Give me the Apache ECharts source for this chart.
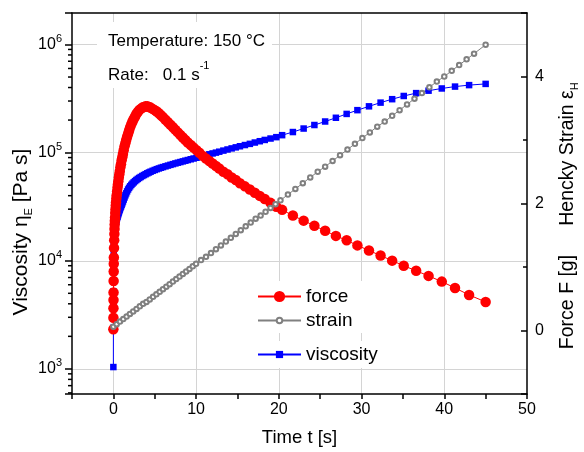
<!DOCTYPE html>
<html>
<head>
<meta charset="utf-8">
<script src="https://cdn.jsdelivr.net/npm/echarts@6/dist/echarts.min.js"></script>
<style>
html, body { margin: 0; padding: 0; background: #fff; }
#chart { width: 584px; height: 452px; }
</style>
</head>
<body>
<div id="chart"></div>
<script>
// Elongational test: time base shared by force and viscosity (s)
const time = [
  0, 0.005, 0.01, 0.015, 0.02, 0.03, 0.04, 0.05, 0.06, 0.08,
  0.1, 0.12, 0.14, 0.16, 0.18, 0.2, 0.23, 0.26, 0.29, 0.32,
  0.36, 0.4, 0.45, 0.5, 0.55, 0.6, 0.66, 0.72, 0.78, 0.85,
  0.92, 1.0, 1.08, 1.16, 1.25, 1.35, 1.45, 1.55, 1.66, 1.78,
  1.9, 2.03, 2.17, 2.31, 2.46, 2.62, 2.78, 2.95, 3.12, 3.3,
  3.5, 3.7, 3.9, 4.1, 4.3, 4.5, 4.75, 5.0, 5.25, 5.5,
  5.75, 6.0, 6.3, 6.6, 6.9, 7.2, 7.5, 7.8, 8.1, 8.4,
  8.7, 9.0, 9.35, 9.7, 10.05, 10.4, 10.8, 11.2, 11.6, 12.0,
  12.4, 12.8, 13.3, 13.8, 14.3, 14.8, 15.3, 15.9, 16.5, 17.1,
  17.7, 18.3, 19.0, 19.7, 20.4, 21.7, 23.0, 24.3, 25.6, 26.9,
  28.2, 29.5, 30.9, 32.3, 33.7, 35.1, 36.6, 38.1, 39.7, 41.3,
  43.0, 45.0];

// Tensile force F (g)
const force = [
  0.02, 0.2, 0.35, 0.48, 0.6, 0.78, 0.93, 1.05, 1.15, 1.3,
  1.42, 1.52, 1.6, 1.67, 1.73, 1.78, 1.85, 1.91, 1.97, 2.02,
  2.08, 2.13, 2.19, 2.25, 2.3, 2.35, 2.41, 2.46, 2.51, 2.57,
  2.62, 2.68, 2.73, 2.78, 2.84, 2.9, 2.95, 3.0, 3.05, 3.1,
  3.15, 3.2, 3.25, 3.29, 3.33, 3.37, 3.41, 3.44, 3.47, 3.49,
  3.51, 3.52, 3.53, 3.53, 3.52, 3.51, 3.49, 3.47, 3.45, 3.42,
  3.39, 3.36, 3.32, 3.28, 3.24, 3.2, 3.16, 3.12, 3.08, 3.04,
  3.0, 2.96, 2.92, 2.88, 2.84, 2.8, 2.75, 2.71, 2.67, 2.63,
  2.59, 2.55, 2.5, 2.46, 2.41, 2.37, 2.32, 2.27, 2.22, 2.17,
  2.12, 2.07, 2.01, 1.95, 1.9, 1.81, 1.73, 1.65, 1.57, 1.49,
  1.42, 1.34, 1.26, 1.18, 1.10, 1.02, 0.94, 0.86, 0.77, 0.67,
  0.56, 0.45];

// Elongational viscosity ηE (Pa s)
const viscosity = [
  1040, 2400, 3800, 5200, 6500, 8800, 10800, 12300, 13500, 15200,
  16500, 17500, 18300, 19000, 19600, 20100, 20900, 21600, 22200, 22800,
  23500, 24100, 24800, 25500, 26300, 27000, 27900, 28800, 29700, 30700,
  31700, 32800, 34000, 35300, 36800, 38500, 40300, 42000, 43800, 45600,
  47200, 48800, 50300, 51700, 53100, 54500, 55800, 57100, 58300, 59500,
  60800, 62000, 63200, 64400, 65500, 66600, 67900, 69100, 70300, 71400,
  72500, 73500, 74700, 75900, 77100, 78300, 79500, 80700, 81800, 83000,
  84200, 85400, 86800, 88200, 89600, 91100, 92900, 94700, 96500, 98300,
  100000, 102000, 104400, 106900, 109400, 111900, 114500, 117500, 120500, 124000,
  127500, 131000, 135000, 139000, 145000, 155000, 167000, 180000, 194000, 210000,
  228000, 247000, 268000, 290000, 312000, 334000, 355000, 374000, 392000, 408000,
  421000, 432000];

// Hencky strain εH, sampled on its own time base (s)
const strainTime = [0, 0.4, 0.8, 1.2, 1.6, 2.0, 2.4, 2.8, 3.2, 3.6, 4.0, 4.4, 4.8, 5.2, 5.6, 6.0, 6.4, 6.8,
  7.2, 7.6, 8.0, 8.4, 8.8, 9.2, 9.6, 10.0, 10.6, 11.2, 11.8, 12.4, 13.0, 13.6, 14.2, 14.8, 15.4, 16.0,
  16.6, 17.2, 17.8, 18.4, 19.0, 19.6, 20.2, 21.1, 22.0, 22.9, 23.8, 24.7, 25.6, 26.5, 27.4, 28.3, 29.2,
  30.1, 31.0, 31.9, 32.8, 33.7, 34.6, 35.5, 36.4, 37.3, 38.2, 39.1, 40.0, 40.9, 41.8, 42.7, 43.6, 45.0];
const strain = [0.06, 0.10, 0.14, 0.18, 0.22, 0.26, 0.30, 0.34, 0.38, 0.42, 0.45, 0.49, 0.53, 0.57, 0.61, 0.65, 0.69, 0.73,
  0.77, 0.81, 0.85, 0.89, 0.93, 0.97, 1.01, 1.05, 1.11, 1.16, 1.22, 1.28, 1.34, 1.40, 1.46, 1.52, 1.58, 1.64,
  1.70, 1.76, 1.81, 1.87, 1.93, 1.99, 2.05, 2.14, 2.23, 2.32, 2.41, 2.50, 2.58, 2.67, 2.76, 2.85, 2.94,
  3.03, 3.12, 3.21, 3.29, 3.38, 3.47, 3.56, 3.65, 3.74, 3.83, 3.92, 4.00, 4.09, 4.18, 4.27, 4.36, 4.50];

// Labelled ticks
const timeLabels = [0, 10, 20, 30, 40, 50];
const rightLabels = [0, 2, 4];
const rightMinorTicks = [1, 3];

// Axis ranges
const timeRange = [-5, 50];
const viscRange = [586, 1955000];
const rightRange = [-1, 5];

const FONT = '"Liberation Sans", Arial, Helvetica, sans-serif';

// 2..9 × 10^n minor ticks of the logarithmic axis
const logMinorTicks = [];
for (let e = 2; e <= 6; e++) {
  for (let m = 2; m <= 9; m++) {
    const v = m * Math.pow(10, e);
    if (v > viscRange[0] && v < viscRange[1]) logMinorTicks.push(v);
  }
}

const chart = echarts.init(document.getElementById('chart'), null, { renderer: 'canvas' });

const tickFont = { fontFamily: FONT, fontSize: 16, color: '#000' };
const legendText = { fontFamily: FONT, fontSize: 19, color: '#000' };

function tickMarks(dir, len) {
  return function (params, api) {
    const p = api.coord([api.value(0), api.value(1)]);
    return {
      type: 'line',
      shape: { x1: p[0], y1: p[1], x2: p[0] + dir * len, y2: p[1] },
      style: { stroke: '#000', lineWidth: 1.5 }
    };
  };
}

function legendBox(name, top, itemHeight, padding) {
  return {
    data: [name], left: 250, top: top, orient: 'vertical',
    padding: padding, itemWidth: 43, itemHeight: itemHeight, itemGap: 0,
    backgroundColor: '#fff', textStyle: legendText, selectedMode: false
  };
}

const option = {
  animation: false,
  backgroundColor: '#fff',
  grid: { left: 72, right: 57, top: 13, bottom: 55, containLabel: false },
  xAxis: [
    {
      type: 'value', min: timeRange[0], max: timeRange[1], interval: 5,
      name: 'Time t [s]', nameLocation: 'middle', nameGap: 34,
      nameTextStyle: { fontFamily: FONT, fontSize: 18.5, color: '#000' },
      axisLine: { show: true, onZero: false, lineStyle: { color: '#000', width: 1.5 } },
      axisTick: { show: true, inside: false, length: 5, lineStyle: { color: '#000', width: 1.5 } },
      axisLabel: Object.assign({ margin: 8, formatter: v => (timeLabels.indexOf(v) >= 0 ? String(v) : '') }, tickFont),
      splitLine: { show: true, showMinLine: false, showMaxLine: false,
        lineStyle: { color: ['#d4d4d4', 'rgba(0,0,0,0)'], width: 1 } }
    },
    {
      type: 'value', position: 'top', min: timeRange[0], max: timeRange[1],
      axisLine: { show: true, onZero: false, lineStyle: { color: '#000', width: 1.5 } },
      axisTick: { show: false }, axisLabel: { show: false }, splitLine: { show: false }
    }
  ],
  yAxis: [
    {
      type: 'log', logBase: 10, min: viscRange[0], max: viscRange[1], position: 'left',
      axisLine: { show: true, onZero: false, lineStyle: { color: '#000', width: 1.5 } },
      axisTick: { show: true, inside: false, length: 7, lineStyle: { color: '#000', width: 1.5 } },
      axisLabel: {
        margin: 10,
        formatter: function (v) {
          const e = Math.log10(v);
          if (Math.abs(e - Math.round(e)) > 1e-6) return '';
          return '{b|10}{s|' + Math.round(e) + '}';
        },
        rich: {
          b: { fontFamily: FONT, fontSize: 16, color: '#000', lineHeight: 22 },
          s: { fontFamily: FONT, fontSize: 11, color: '#000', lineHeight: 11, verticalAlign: 'top' }
        }
      },
      splitLine: { show: true, showMinLine: false, showMaxLine: false, lineStyle: { color: '#d4d4d4', width: 1 } }
    },
    {
      type: 'value', min: rightRange[0], max: rightRange[1], splitNumber: 3, position: 'right',
      axisLine: { show: true, onZero: false, lineStyle: { color: '#000', width: 1.5 } },
      axisTick: { show: true, inside: true, length: 6, lineStyle: { color: '#000', width: 1.5 } },
      axisLabel: Object.assign({ margin: 8, formatter: v => (rightLabels.indexOf(v) >= 0 ? String(v) : '') }, tickFont),
      splitLine: { show: false }
    }
  ],
  legend: [
    legendBox('force', 281, 14, [6, 40, 3, 7]),
    legendBox('strain', 308, 7, [3, 40, 3, 7]),
    legendBox('viscosity', 341, 9, [4, 22, 4, 7])
  ],
  graphic: [
    { type: 'rect', z: 1, silent: true, shape: { x: 97, y: 22, width: 175, height: 66 },
      style: { fill: '#fff' } },
    { type: 'text', z: 2, left: 108, top: 33, silent: true,
      style: { text: 'Temperature: 150 °C', font: '17px ' + FONT, fill: '#000' } },
    { type: 'text', z: 2, left: 108, top: 60, silent: true,
      style: { text: '{a|Rate:   0.1 s}{s|-1}', fill: '#000',
        rich: { a: { fontFamily: FONT, fontSize: 17, lineHeight: 24, verticalAlign: 'bottom' },
                s: { fontFamily: FONT, fontSize: 11, lineHeight: 11, verticalAlign: 'top' } } } },
    { type: 'text', x: 21, y: 232, rotation: Math.PI / 2, silent: true,
      style: { text: '{a|Viscosity η}{e|E}{a| [Pa s]}', align: 'center', verticalAlign: 'middle', fill: '#000',
        rich: { a: { fontFamily: FONT, fontSize: 21, lineHeight: 26 },
                e: { fontFamily: FONT, fontSize: 11, lineHeight: 12, verticalAlign: 'bottom' } } } },
    { type: 'text', x: 568, y: 154, rotation: Math.PI / 2, silent: true,
      style: { text: '{a|Hencky Strain ε}{e|H}', align: 'center', verticalAlign: 'middle', fill: '#000',
        rich: { a: { fontFamily: FONT, fontSize: 19.5, lineHeight: 24 },
                e: { fontFamily: FONT, fontSize: 11, lineHeight: 12, verticalAlign: 'bottom' } } } },
    { type: 'text', x: 568, y: 302, rotation: Math.PI / 2, silent: true,
      style: { text: 'Force F [g]', align: 'center', verticalAlign: 'middle', fill: '#000',
        font: '19.5px ' + FONT } }
  ],
  series: [
    {
      name: 'viscosity', type: 'line', xAxisIndex: 0, yAxisIndex: 0,
      data: time.map((t, i) => [t, viscosity[i]]),
      symbol: 'rect', symbolSize: 6.5,
      itemStyle: { color: '#0000ff' },
      lineStyle: { color: '#0000ff', width: 1 }
    },
    {
      name: 'force', type: 'line', xAxisIndex: 0, yAxisIndex: 1,
      data: time.map((t, i) => [t, force[i]]),
      symbol: 'circle', symbolSize: 10.5,
      itemStyle: { color: '#ff0000' },
      lineStyle: { color: '#ff0000', width: 1 }
    },
    {
      name: 'strain', type: 'line', xAxisIndex: 0, yAxisIndex: 1,
      data: strainTime.map((t, i) => [t, strain[i]]),
      symbol: 'emptyCircle', symbolSize: 4.5,
      itemStyle: { color: '#808080', borderColor: '#808080', borderWidth: 1 },
      lineStyle: { color: '#808080', width: 1 }
    },
    {
      type: 'custom', xAxisIndex: 0, yAxisIndex: 0, silent: true, clip: false, z: 6,
      data: logMinorTicks.map(v => [timeRange[0], v]),
      renderItem: tickMarks(-1, 4)
    },
    {
      type: 'custom', xAxisIndex: 0, yAxisIndex: 1, silent: true, clip: false, z: 6,
      data: rightMinorTicks.map(v => [timeRange[1], v]),
      renderItem: tickMarks(-1, 4)
    }
  ]
};

chart.setOption(option);
</script>
</body>
</html>
